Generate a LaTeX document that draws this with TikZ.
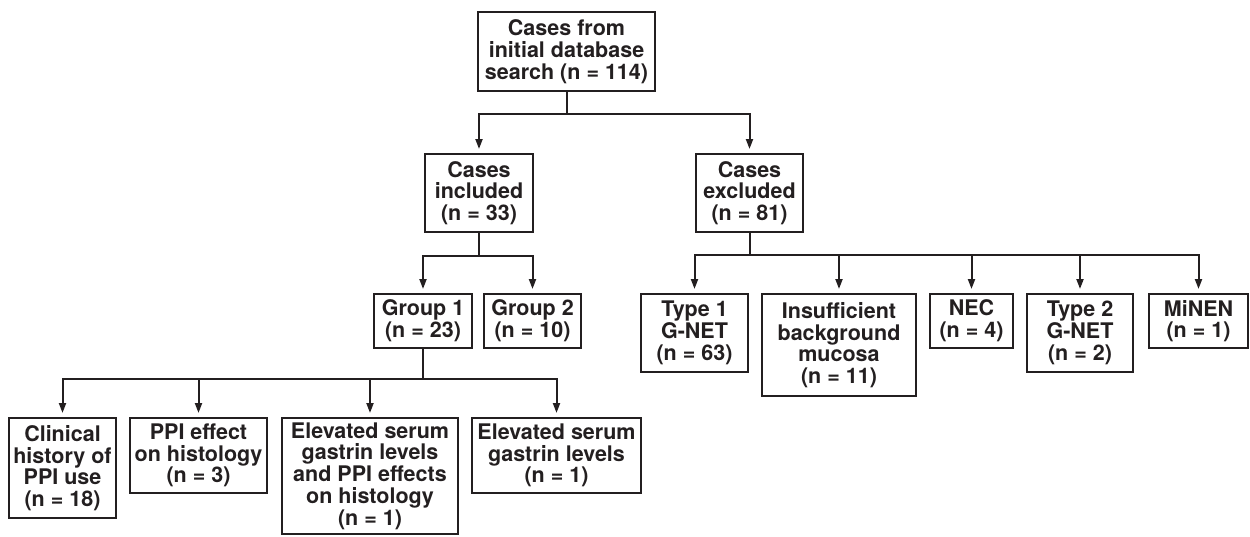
\documentclass[tikz,border=0pt]{standalone}
\usepackage{fontspec}
\setmainfont{TeX Gyre Heros}
\usepackage{tikz}
\usetikzlibrary{arrows.meta,positioning}
\definecolor{ink}{HTML}{231F20}

\begin{document}
\begin{tikzpicture}[x=1pt,y=-1pt,
  box/.style={draw=ink,line width=2pt,align=center,inner sep=0pt,text=ink,font=\fontsize{21.5}{21.7}\selectfont\bfseries},
  arrow/.style={-{Triangle[length=10pt,width=7pt]},line width=2pt,draw=ink,shorten >=4pt},
  link/.style={line width=2pt,draw=ink}
]
  \useasboundingbox (0,0) rectangle (1250,536);

  % search and first split
  \node[box,anchor=north west,minimum width=177pt,minimum height=79pt] (search) at (477,11) {Cases from\\initial database\\search (n = 114)};
  \node[box,anchor=north west,minimum width=108pt,minimum height=78pt] (inc) at (424,153) {Cases\\included\\(n = 33)};
  \node[box,anchor=north west,minimum width=107pt,minimum height=78pt] (exc) at (695,153) {Cases\\excluded\\(n = 81)};

  % included cases
  \node[box,anchor=north west,minimum width=98pt,minimum height=54pt] (grpA) at (373,293) {Group 1\\(n = 23)};
  \node[box,minimum width=97pt,minimum height=54pt,below right=0pt and 10pt of grpA.north east] (grpB) {Group 2\\(n = 10)};

  \node[box,anchor=north west,minimum width=107pt,minimum height=100pt] (ppiuse) at (8,417) {Clinical\\history of\\PPI use\\(n = 18)};
  \node[box,minimum width=137pt,minimum height=75pt,below right=0pt and 12pt of ppiuse.north east] (ppihist) {PPI effect\\on histology\\(n = 3)};
  \node[box,minimum width=176pt,minimum height=116pt,below right=0pt and 13pt of ppihist.north east] (both) {Elevated serum\\gastrin levels\\and PPI effects\\on histology\\(n = 1)};
  \node[box,minimum width=169pt,minimum height=75pt,below right=0pt and 12pt of both.north east] (gastrin) {Elevated serum\\gastrin levels\\(n = 1)};

  % excluded cases
  \node[box,anchor=north west,minimum width=107pt,minimum height=78pt] (type1) at (640,293) {Type 1\\G-NET\\(n = 63)};
  \node[box,minimum width=154pt,minimum height=102pt,below right=0pt and 12pt of type1.north east] (insuff) {Insufficient\\background\\mucosa\\(n = 11)};
  \node[box,minimum width=83pt,minimum height=54pt,below right=0pt and 12pt of insuff.north east] (nec) {NEC\\(n = 4)};
  \node[box,minimum width=106pt,minimum height=78pt,below right=0pt and 12pt of nec.north east] (type2) {Type 2\\G-NET\\(n = 2)};
  \node[box,minimum width=99pt,minimum height=54pt,below right=0pt and 14pt of type2.north east] (minen) {MiNEN\\(n = 1)};

  % connectors
  \draw[link] (search.south) -- ++(0,22) coordinate (sj);
  \draw[arrow] (sj) -| (inc.north);
  \draw[arrow] (sj) -| (exc.north);

  \draw[link] (inc.south) -- ++(0,23) coordinate (ij);
  \foreach \n in {grpA,grpB}
    \draw[arrow] (ij) -| (\n.north);

  \draw[link] (grpA.south) -- ++(0,30) coordinate (gj);
  \foreach \n in {ppiuse,ppihist,both,gastrin}
    \draw[arrow] (gj) -| (\n.north);

  \draw[link] (exc.south) -- ++(0,22) coordinate (ej);
  \foreach \n in {type1,insuff,nec,type2,minen}
    \draw[arrow] (ej) -| (\n.north);
\end{tikzpicture}
\end{document}
